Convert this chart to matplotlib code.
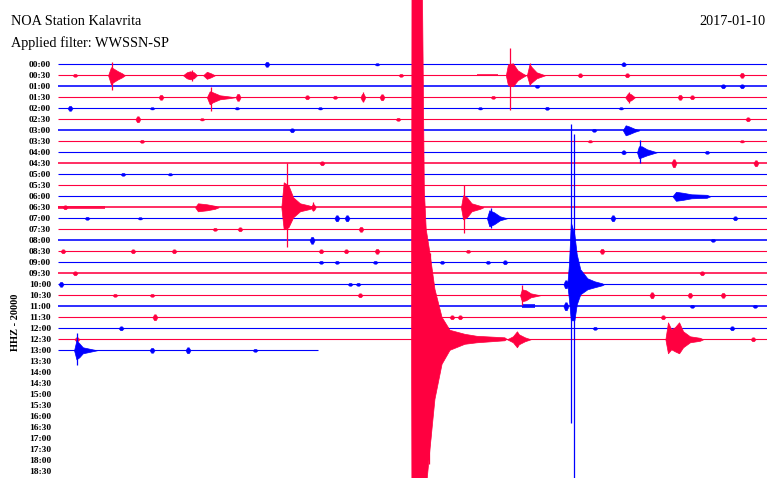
"""Helicorder plot: NOA station Kalavrita, 2017-01-10, WWSSN-SP filtered."""

import matplotlib
matplotlib.use('Agg')
import matplotlib.pyplot as plt

# ---- data -------------------------------------------------------------
ROW_LABELS = ['00:00', '00:30', '01:00', '01:30', '02:00', '02:30', '03:00', '03:30',
              '04:00', '04:30', '05:00', '05:30', '06:00', '06:30', '07:00', '07:30',
              '08:00', '08:30', '09:00', '09:30', '10:00', '10:30', '11:00', '11:30',
              '12:00', '12:30', '13:00', '13:30', '14:00', '14:30', '15:00', '15:30',
              '16:00', '16:30', '17:00', '17:30', '18:00', '18:30']

# minutes of data recorded in each 30-minute line (last line is partial)
TRACE_MINUTES = [30] * 26 + [11.0]

# lines with a visibly stronger background noise
NOISY_ROWS = [2, 6, 9, 13, 16, 19, 22]

# (row, start minute, end minute, half amplitude) - stretches of heavier noise
NOISE_SEGS = [
    (0, 1.35, 3.55, 0.8), (1, 17.73, 18.60, 1.0), (8, 17.0, 18.0, 0.8),
    (12, 1.0, 2.0, 0.8), (12, 28.3, 29.7, 0.8), (13, 0.0, 2.0, 1.2),
    (22, 19.63, 20.18, 2.0),
]

# (row, minute, half amplitude) - short wavelets
BLOBS = [
    (0, 8.84, 2.5), (0, 13.50, 1.2), (0, 23.93, 2.0),
    (1, 0.72, 1.5), (1, 14.51, 1.5), (1, 20.27, 2.0), (1, 22.09, 2.0), (1, 24.08, 2.0), (1, 28.94, 2.5),
    (2, 20.27, 1.5), (2, 28.14, 2.0), (2, 28.94, 2.0),
    (3, 4.36, 2.5), (3, 7.62, 3.5), (3, 10.54, 2.0), (3, 11.72, 1.5), (3, 12.90, 3.5), (3, 13.71, 3.0),
    (3, 18.41, 1.5), (3, 26.32, 2.5), (3, 26.83, 2.0),
    (4, 0.51, 2.5), (4, 3.98, 1.2), (4, 7.57, 1.2), (4, 11.09, 1.2), (4, 17.86, 1.2), (4, 20.69, 1.5), (4, 23.82, 1.2),
    (5, 3.38, 3.0), (5, 6.09, 1.2), (5, 14.39, 1.5), (5, 29.19, 2.0),
    (6, 9.90, 2.0), (6, 22.68, 1.5),
    (7, 3.55, 1.5), (7, 22.51, 1.2), (7, 28.94, 1.2),
    (8, 23.93, 2.0), (8, 27.46, 1.5),
    (9, 11.17, 2.0), (9, 26.06, 4.0), (9, 29.53, 3.0),
    (10, 2.75, 1.5), (10, 4.74, 1.2),
    (13, 0.30, 2.0), (13, 10.80, 3.0),
    (14, 1.23, 1.5), (14, 3.47, 1.2), (14, 11.80, 3.0), (14, 12.23, 3.0), (14, 23.48, 3.0), (14, 28.65, 2.0),
    (15, 6.64, 1.5), (15, 7.70, 2.0), (15, 12.82, 2.5),
    (16, 10.75, 3.5), (16, 27.71, 1.5),
    (17, 0.21, 2.0), (17, 3.17, 2.0), (17, 4.91, 2.0), (17, 11.13, 2.0), (17, 12.19, 2.0), (17, 13.50, 2.5),
    (17, 17.35, 1.5), (17, 23.02, 2.5),
    (18, 11.13, 1.5), (18, 11.80, 1.5), (18, 13.42, 1.5), (18, 16.25, 1.5), (18, 18.19, 1.5), (18, 18.91, 2.0),
    (19, 0.72, 2.0), (19, 27.25, 2.0),
    (20, 0.13, 2.5), (20, 12.36, 1.5), (20, 12.70, 1.5), (20, 21.49, 4.0),
    (21, 2.41, 1.5), (21, 3.98, 1.5), (21, 12.78, 2.0), (21, 25.13, 3.0), (21, 26.74, 2.5), (21, 28.14, 2.5),
    (22, 21.49, 4.0), (22, 26.83, 1.5), (22, 29.49, 1.5),
    (23, 4.10, 3.0), (23, 16.67, 2.0), (23, 17.01, 2.0), (23, 25.60, 2.0),
    (24, 2.67, 2.0), (24, 16.25, 1.2), (24, 22.72, 1.5), (24, 28.52, 2.0),
    (25, 0.80, 2.0), (25, 29.41, 2.0),
    (26, 3.98, 2.5), (26, 5.50, 3.0), (26, 8.34, 1.5),
]

# (row, [(minute, up, down), ...]) - envelopes of the larger events
EVENTS = [
    (1, [(2.12, 0, 0), (2.24, 8, 9), (2.33, 7, 7), (2.54, 4, 4), (2.71, 2, 2), (2.83, 0, 0)]),
    (1, [(5.29, 0, 0), (5.45, 3, 3), (5.59, 4, 4), (5.75, 3, 3), (5.88, 0, 0)]),
    (1, [(6.14, 0, 0), (6.30, 3.5, 3.5), (6.47, 2, 2), (6.64, 0, 0)]),
    (1, [(18.95, 0, 0), (19.04, 11, 10), (19.25, 12, 11), (19.45, 5, 5), (19.65, 2, 2), (19.80, 0, 0)]),
    (1, [(19.84, 0, 0), (19.95, 11, 9), (20.05, 8, 7), (20.25, 3, 3), (20.61, 0, 0)]),
    (3, [(6.30, 0, 0), (6.42, 6, 7), (6.55, 5, 5), (6.85, 2, 2), (7.20, 1, 1), (7.49, 0, 0)]),
    (3, [(24.00, 0, 0), (24.12, 4, 4), (24.25, 3, 3), (24.41, 0, 0)]),
    (6, [(23.90, 0, 0), (24.02, 5, 5), (24.15, 4, 4), (24.40, 1.5, 1.5), (24.60, 0, 0)]),
    (8, [(24.50, 0, 0), (24.58, 6, 6), (24.70, 6, 5), (24.92, 3, 3), (25.34, 0, 0)]),
    (12, [(26.00, 0, 0), (26.15, 4.5, 4.5), (26.45, 3.5, 3.5), (26.80, 2, 2), (27.45, 1.5, 1.5), (27.60, 0, 0)]),
    (13, [(5.80, 0, 0), (5.92, 4, 4), (6.30, 3, 3), (6.64, 1.5, 1.5), (6.80, 0, 0)]),
    (13, [(9.45, 0, 0), (9.55, 25, 22), (9.75, 22, 20), (9.95, 10, 10), (10.24, 4, 4), (10.60, 2, 2), (10.87, 0, 0)]),
    (13, [(17.05, 0, 0), (17.14, 12, 12), (17.30, 10, 10), (17.50, 4, 4), (17.86, 1.5, 1.5), (18.00, 0, 0)]),
    (14, [(18.15, 0, 0), (18.25, 8, 8), (18.45, 6, 6), (18.70, 2, 2), (19.00, 0, 0)]),
    (20, [(21.55, 0, 0), (21.62, 20, 15), (21.70, 62, 36), (21.85, 50, 36), (21.95, 30, 20), (22.10, 15, 10),
          (22.40, 6, 5), (22.70, 3, 3), (23.02, 1, 1), (23.10, 0, 0)]),
    (21, [(19.55, 0, 0), (19.63, 6, 6), (19.80, 5, 5), (20.00, 2, 2), (20.40, 0, 0)]),
    (25, [(14.96, 0, 0), (14.98, 400, 200), (15.40, 400, 200), (15.50, 150, 200), (15.58, 110, 150),
          (15.74, 86, 110), (15.95, 50, 60), (16.25, 22, 25), (16.59, 9, 11), (17.22, 5, 5), (17.73, 3, 3.5),
          (18.91, 1.5, 1.5), (19.00, 0, 0)]),
    (25, [(19.00, 0, 0), (19.25, 3, 3), (19.42, 8, 8), (19.50, 5, 5), (19.75, 2, 2), (20.00, 0, 0)]),
    (25, [(25.70, 0, 0), (25.81, 17, 14), (25.95, 10, 10), (26.10, 12, 12), (26.28, 17, 14), (26.45, 8, 8),
          (26.74, 3, 3), (27.16, 1.5, 1.5), (27.30, 0, 0)]),
    (26, [(0.68, 0, 0), (0.78, 10, 9), (0.90, 7, 7), (1.05, 3, 3), (1.35, 1.5, 1.5), (1.65, 0, 0)]),
]

# (row, minute, up, down) - single high peaks
SPIKES = [
    (1, 2.28, 13, 15), (1, 5.67, 5, 6), (1, 19.12, 27, 35), (1, 19.98, 12, 10),
    (3, 6.47, 10, 14), (3, 12.90, 5, 5), (3, 24.16, 5, 6),
    (8, 24.63, 12, 11),
    (13, 9.69, 44, 40), (13, 10.80, 5, 4), (13, 17.20, 22, 26),
    (14, 18.33, 10, 10),
    (20, 21.69, 160, 139), (20, 21.82, 150, 200),
    (21, 19.63, 10, 10),
    (25, 15.74, 86, 100), (25, 15.70, 60, 125),
    (26, 0.82, 17, 15),
]

# ---- style ------------------------------------------------------------
BLUE = '#0000ff'
RED = '#ff0040'
ROW_GAP = 11
BLOB_W = 0.22
SERIF = ['Liberation Serif', 'DejaVu Serif']

fig = plt.figure(figsize=(7.7, 4.78), dpi=100, facecolor='white')
ax = fig.add_axes([58 / 770, 0, 709 / 770, 1])
ax.set_xlim(0, 30)
ax.set_ylim(-413.7, 64.3)


def row_color(r):
    return BLUE if r % 2 == 0 else RED


for r, end in enumerate(TRACE_MINUTES):
    lw = 1.15 if r in NOISY_ROWS else 0.8
    ax.plot([0, end], [-r * ROW_GAP] * 2, color=row_color(r), lw=lw,
            solid_capstyle='butt', zorder=2 + r * 0.01)

for r, m0, m1, a in NOISE_SEGS:
    off = -r * ROW_GAP
    ax.fill_between([m0, m1], off - a, off + a, color=row_color(r), lw=0, alpha=0.8, zorder=3)

for r, m, a in BLOBS:
    off = -r * ROW_GAP
    xs = [m - BLOB_W / 2, m - BLOB_W / 6, m + BLOB_W / 6, m + BLOB_W / 2]
    amp = [0, a, a, 0]
    ax.fill_between(xs, [off + v for v in amp], [off - v for v in amp],
                    color=row_color(r), lw=0.3, zorder=3)

for r, pts in EVENTS:
    off = -r * ROW_GAP
    xs = [p[0] for p in pts]
    ax.fill_between(xs, [off + p[1] for p in pts], [off - p[2] for p in pts],
                    color=row_color(r), lw=0.5, zorder=4 + r * 0.01)

for r, m, up, down in SPIKES:
    off = -r * ROW_GAP
    ax.vlines(m, off - down, off + up, color=row_color(r), lw=0.9, zorder=4 + r * 0.01)

ax.set_xticks([])
ax.set_yticks([-k * ROW_GAP for k in range(len(ROW_LABELS))])
ax.set_yticklabels(ROW_LABELS, family=SERIF, fontsize=6.8, fontweight='bold')
ax.tick_params(axis='y', length=0, pad=5)
for s in ax.spines.values():
    s.set_visible(False)
ax.patch.set_alpha(0)

fig.text(11 / 770, 1 - 25 / 478, 'NOA Station Kalavrita', family=SERIF, fontsize=10.3, va='baseline')
fig.text(11 / 770, 1 - 47 / 478, 'Applied filter: WWSSN-SP', family=SERIF, fontsize=10.3, va='baseline')
fig.text(766 / 770, 1 - 25 / 478, '2017-01-10', family=SERIF, fontsize=10.3, ha='right', va='baseline')
fig.text(15 / 770, 1 - 322 / 478, 'HHZ - 20000', family=SERIF, fontsize=7.5, fontweight='bold',
         rotation=90, ha='center', va='center')

fig.savefig('out.png', dpi=100, facecolor='white')
print("out.png saved")
